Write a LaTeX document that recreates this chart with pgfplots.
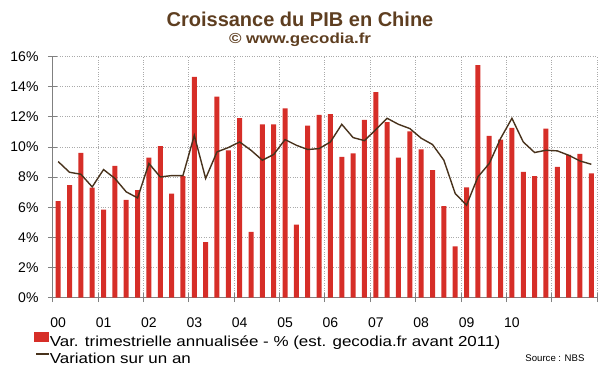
\documentclass[border=0pt]{standalone}
\usepackage{fontspec}
\setmainfont{Liberation Sans}
\newfontfamily\widefont[FakeStretch=1.17]{Liberation Sans}
\usepackage{pgfplots}
\pgfplotsset{compat=1.18}
\definecolor{barred}{RGB}{214,46,40}
\definecolor{linebrown}{RGB}{72,50,28}
\definecolor{titlebrown}{RGB}{94,62,32}
\definecolor{axgray}{RGB}{128,128,128}
\definecolor{gridgray}{RGB}{170,170,170}

\pgfplotstableread{
q bar yoy
0 6.40 9.03
1 7.46 8.32
2 9.60 8.19
3 7.30 7.35
4 5.85 8.50
5 8.74 7.91
6 6.49 7.02
7 7.13 6.62
8 9.30 8.90
9 10.05 8.01
10 6.91 8.10
11 8.06 8.10
12 14.64 10.77
13 3.69 7.91
14 13.34 9.67
15 9.78 9.96
16 11.92 10.33
17 4.37 9.78
18 11.50 9.12
19 11.50 9.50
20 12.56 10.49
21 4.84 10.11
22 11.41 9.83
23 12.12 9.89
24 12.17 10.33
25 9.34 11.50
26 9.58 10.62
27 11.79 10.42
28 13.64 11.15
29 11.64 11.90
30 9.30 11.50
31 11.04 11.22
32 9.84 10.58
33 8.46 10.16
34 6.07 9.12
35 3.40 6.91
36 7.31 6.14
37 15.43 8.01
38 10.73 8.90
39 10.49 10.56
40 11.26 11.90
41 8.35 10.33
42 8.06 9.63
43 11.22 9.78
44 8.68 9.74
45 9.47 9.45
46 9.54 9.07
47 8.24 8.85
}\gdp

\begin{document}
\begin{tikzpicture}[x=1pt,y=1pt]
\useasboundingbox (0,0) rectangle (600,372);
\begin{axis}[
  at={(52.5pt,74.3pt)}, anchor=south west,
  scale only axis, width=544.5pt, height=241.2pt,
  xmin=-0.5, xmax=47.5, ymin=0, ymax=16,
  axis lines*=left,
  axis line style={axgray, line width=0.8pt},
  ytick={0,2,...,16},
  yticklabel={\pgfmathprintnumber{\tick}\%},
  xtick={-0.5,3.5,...,47.5},
  xticklabels={},
  extra x ticks={0,4,...,40},
  extra x tick labels={00,01,02,03,04,05,06,07,08,09,10},
  extra x tick style={grid=none, major tick length=0pt,
     tick label style={yshift=-16pt}},
  grid=major,
  major grid style={dotted, gridgray, line width=0.6pt},
  tick align=center, major tick length=9pt,
  tick style={axgray, line width=0.7pt},
  tick label style={font=\fontsize{14}{16}\selectfont, text=black},
  yticklabel style={xshift=-6pt},
  /pgf/number format/assume math mode=true,
  legend cell align=left,
  legend style={at={(-0.0395,-0.1326)}, anchor=north west, draw=none, fill=none,
     font=\widefont\fontsize{14.5}{16}\selectfont, row sep=5pt,
     nodes={inner sep=0pt},
     /tikz/every even column/.append style={column sep=3pt}},
]
\addplot[ybar, bar width=0.44, bar shift=0pt, fill=barred, draw=none,
  legend image code/.code={\fill[barred] (0pt,0pt) rectangle (15pt,10pt);}]
  table[x=q, y=bar] {\gdp};
\addlegendentry{Var. trimestrielle annualisée - \% (est. gecodia.fr avant 2011)}
\addplot[linebrown, line width=1.4pt, mark=none,
  legend image code/.code={\draw[linebrown, line width=1.2pt] (2pt,5pt) -- (15pt,5pt);}]
  table[x=q, y=yoy] {\gdp};
\addlegendentry{Variation sur un an}
\end{axis}
\node[anchor=base, font=\bfseries\fontsize{20}{22}\selectfont, text=titlebrown] at (300,345) {Croissance du PIB en Chine};
\node[anchor=base, font=\widefont\bfseries\fontsize{14.5}{16}\selectfont, text=titlebrown] at (300,328.7) {© www.gecodia.fr};
\node[anchor=mid east, font=\fontsize{9.6}{11}\selectfont] at (588,12.7) {Source : NBS};
\end{tikzpicture}
\end{document}
